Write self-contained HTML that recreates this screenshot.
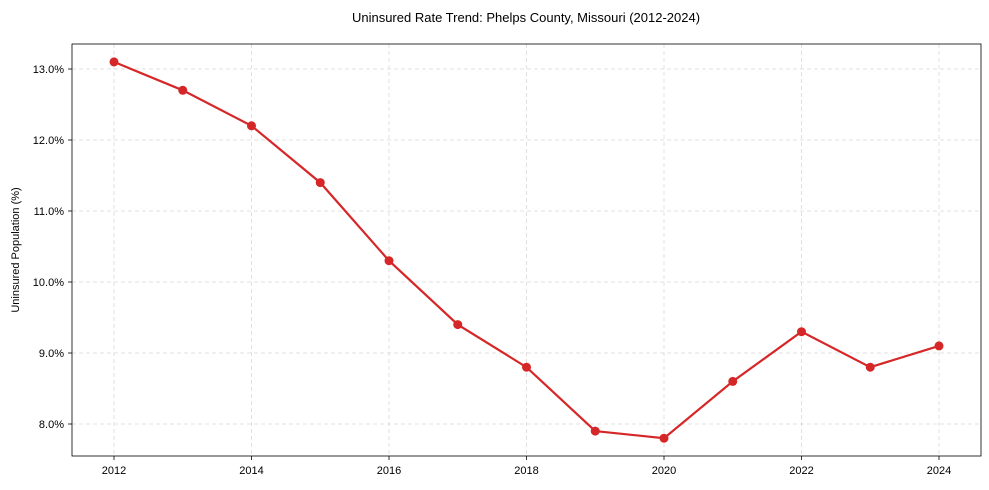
<!DOCTYPE html>
<html><head><meta charset="utf-8"><style>body{margin:0;background:#fff}svg{display:block}text{font-family:"Liberation Sans",Arial,sans-serif;fill:#000}</style></head><body>
<svg width="989" height="490" viewBox="0 0 989 490" xmlns="http://www.w3.org/2000/svg">
<rect width="989" height="490" fill="#fff"/>
<text x="526" y="22" font-size="13" text-anchor="middle">Uninsured Rate Trend: Phelps County, Missouri (2012-2024)</text>
<g stroke="#d9d9d9" stroke-width="0.8" stroke-dasharray="4,3">
<line x1="114" y1="44" x2="114" y2="456"/><line x1="251.5" y1="44" x2="251.5" y2="456"/><line x1="389" y1="44" x2="389" y2="456"/><line x1="526.5" y1="44" x2="526.5" y2="456"/><line x1="664" y1="44" x2="664" y2="456"/><line x1="801.5" y1="44" x2="801.5" y2="456"/><line x1="939" y1="44" x2="939" y2="456"/>
<line x1="72" y1="69" x2="981" y2="69"/><line x1="72" y1="140" x2="981" y2="140"/><line x1="72" y1="211" x2="981" y2="211"/><line x1="72" y1="282" x2="981" y2="282"/><line x1="72" y1="353" x2="981" y2="353"/><line x1="72" y1="424" x2="981" y2="424"/>
</g>
<rect x="72" y="44" width="909" height="412" fill="none" stroke="#000" stroke-width="0.8"/>
<g stroke="#000" stroke-width="0.8">
<line x1="114" y1="456" x2="114" y2="460"/><line x1="251.5" y1="456" x2="251.5" y2="460"/><line x1="389" y1="456" x2="389" y2="460"/><line x1="526.5" y1="456" x2="526.5" y2="460"/><line x1="664" y1="456" x2="664" y2="460"/><line x1="801.5" y1="456" x2="801.5" y2="460"/><line x1="939" y1="456" x2="939" y2="460"/>
<line x1="68" y1="69" x2="72" y2="69"/><line x1="68" y1="140" x2="72" y2="140"/><line x1="68" y1="211" x2="72" y2="211"/><line x1="68" y1="282" x2="72" y2="282"/><line x1="68" y1="353" x2="72" y2="353"/><line x1="68" y1="424" x2="72" y2="424"/>
</g>
<g font-size="11" text-anchor="middle">
<text x="114" y="474">2012</text><text x="251.5" y="474">2014</text><text x="389" y="474">2016</text><text x="526.5" y="474">2018</text><text x="664" y="474">2020</text><text x="801.5" y="474">2022</text><text x="939" y="474">2024</text>
</g>
<g font-size="11" text-anchor="end">
<text x="64" y="73">13.0%</text><text x="64" y="144">12.0%</text><text x="64" y="215">11.0%</text><text x="64" y="286">10.0%</text><text x="64" y="357">9.0%</text><text x="64" y="428">8.0%</text>
</g>
<text transform="translate(19,250) rotate(-90)" font-size="11" text-anchor="middle">Uninsured Population (%)</text>
<polyline fill="none" stroke="#d62728" stroke-width="2.2" points="114,61.9 182.75,90.3 251.5,125.8 320.25,182.6 389,260.7 457.75,324.6 526.5,367.2 595.25,431.1 664,438.2 732.75,381.4 801.5,331.7 870.25,367.2 939,345.9"/>
<g fill="#d62728">
<circle cx="114" cy="61.9" r="4.5"/><circle cx="182.75" cy="90.3" r="4.5"/><circle cx="251.5" cy="125.8" r="4.5"/><circle cx="320.25" cy="182.6" r="4.5"/><circle cx="389" cy="260.7" r="4.5"/><circle cx="457.75" cy="324.6" r="4.5"/><circle cx="526.5" cy="367.2" r="4.5"/><circle cx="595.25" cy="431.1" r="4.5"/><circle cx="664" cy="438.2" r="4.5"/><circle cx="732.75" cy="381.4" r="4.5"/><circle cx="801.5" cy="331.7" r="4.5"/><circle cx="870.25" cy="367.2" r="4.5"/><circle cx="939" cy="345.9" r="4.5"/>
</g>
</svg>
</body></html>
